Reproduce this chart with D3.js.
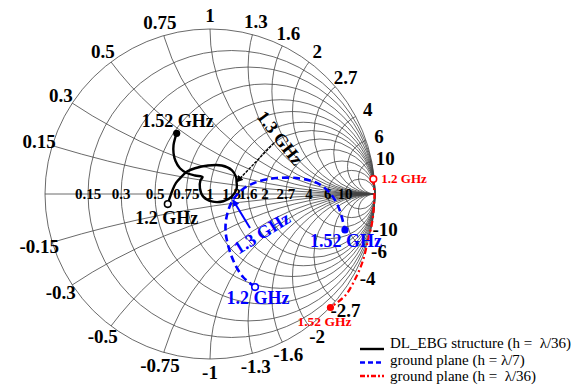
<!DOCTYPE html>
<html><head><meta charset="utf-8">
<script src="https://cdn.jsdelivr.net/npm/d3@7"></script>
<style>
html,body{margin:0;padding:0;background:#fff;}
svg{display:block;}
text{font-family:"Liberation Serif","Times New Roman",serif;}
</style></head><body>
<svg id="chart" width="576" height="386"></svg>
<script>
// Smith chart grid values (normalized resistance and reactance)
const resistanceTicks = [0.15, 0.3, 0.5, 0.75, 1, 1.3, 1.6, 2, 2.7, 4, 6, 10];
const reactanceTicks = [0.15, 0.3, 0.5, 0.75, 1, 1.3, 1.6, 2, 2.7, 4, 6, 10];
const resistanceLabels = ["0.15", "0.3", "0.5", "0.75", "1", "1.3", "1.6", "2", "2.7", "4", "6", "10"];
const reactanceLabels = ["0.15", "0.3", "0.5", "0.75", "1", "1.3", "1.6", "2", "2.7", "4", "6", "10"];

// Reflection coefficient traces [Re(Γ), Im(Γ)], 1.2 GHz → 1.52 GHz
const dlEbg = [
  [-0.256, -0.061], [-0.242, -0.018], [-0.227, 0.024], [-0.206, 0.067], [-0.172, 0.105],
  [-0.141, 0.135], [-0.091, 0.156], [-0.012, 0.173], [0.071, 0.173], [0.132, 0.145],
  [0.158, 0.103], [0.161, 0.073], [0.162, 0.035], [0.132, -0.016], [0.081, -0.044],
  [0.010, -0.045], [-0.041, -0.016], [-0.061, 0.035], [-0.058, 0.082], [-0.045, 0.103],
  [-0.091, 0.112], [-0.141, 0.127], [-0.182, 0.156], [-0.209, 0.200], [-0.221, 0.248],
  [-0.221, 0.297], [-0.212, 0.336], [-0.202, 0.368]
];
const dlEbgMidIndex = 11;

const groundSeventh = [
  [0.273, -0.564], [0.200, -0.503], [0.145, -0.412], [0.109, -0.309], [0.094, -0.218],
  [0.103, -0.127], [0.139, -0.036], [0.200, 0.030], [0.285, 0.073], [0.406, 0.097],
  [0.545, 0.094], [0.648, 0.067], [0.727, 0.006], [0.776, -0.073], [0.800, -0.145],
  [0.818, -0.218]
];
const groundSeventhMidIndex = 6;

const groundThirtySixth = [
  [0.990, 0.091], [0.996, 0.006], [0.993, -0.079], [0.982, -0.176], [0.958, -0.279],
  [0.925, -0.410], [0.880, -0.515], [0.820, -0.615], [0.730, -0.688]
];

const seriesNames = ["DL_EBG structure (h =  λ/36)", "ground plane (h = λ/7)", "ground plane (h =  λ/36)"];
const seriesColors = ["#000000", "#0000ff", "#ff0000"];
const freqStart = "1.2 GHz", freqMid = "1.3 GHz", freqEnd = "1.52 GHz";

const svg = d3.select("#chart");
const cx = 210, cy = 194, R = 165;
const x = d3.scaleLinear().domain([-1, 1]).range([cx - R, cx + R]);
const y = d3.scaleLinear().domain([-1, 1]).range([cy + R, cy - R]);
const len = d3.scaleLinear().domain([0, 1]).range([0, R]);

const defs = svg.append("defs");
defs.append("clipPath").attr("id", "disk")
  .append("circle").attr("cx", x(0)).attr("cy", y(0)).attr("r", len(1));
seriesColors.forEach((c, i) => {
  defs.append("marker").attr("id", "arrow" + i)
    .attr("viewBox", "0 0 10 10").attr("refX", 9).attr("refY", 5)
    .attr("markerWidth", 7).attr("markerHeight", 7).attr("orient", "auto")
    .attr("markerUnits", "userSpaceOnUse")
    .append("path").attr("d", "M0,0 L10,5 L0,10 z").attr("fill", c);
});

// Grid: resistance circles, clipped reactance arcs, real axis and rim
const grid = svg.append("g").attr("fill", "none").attr("stroke", "#444").attr("stroke-width", 0.8);
const clipped = grid.append("g").attr("clip-path", "url(#disk)");
resistanceTicks.forEach(r => {
  grid.append("circle")
    .attr("cx", x(r / (1 + r))).attr("cy", y(0)).attr("r", len(1 / (1 + r)));
});
reactanceTicks.forEach(v => {
  [v, -v].forEach(s => {
    clipped.append("circle")
      .attr("cx", x(1)).attr("cy", y(1 / s)).attr("r", len(1 / Math.abs(s)));
  });
});
grid.append("line").attr("x1", x(-1)).attr("x2", x(1)).attr("y1", y(0)).attr("y2", y(0));
grid.append("circle").attr("cx", x(0)).attr("cy", y(0)).attr("r", len(1));

// Resistance labels along the real axis
const labels = svg.append("g").attr("font-weight", "bold").attr("fill", "#000");
resistanceTicks.forEach((r, i) => {
  labels.append("text")
    .attr("x", x((r - 1) / (r + 1))).attr("y", y(0))
    .attr("text-anchor", "middle").attr("dominant-baseline", "central")
    .attr("font-size", 15).text(resistanceLabels[i]);
});

// Reactance labels around the rim
const rimScale = 1.083;
reactanceTicks.forEach((v, i) => {
  const gr = (v * v - 1) / (v * v + 1), gi = 2 * v / (v * v + 1);
  [[gi, reactanceLabels[i]], [-gi, "-" + reactanceLabels[i]]].forEach(([im, t]) => {
    labels.append("text")
      .attr("x", x(gr * rimScale)).attr("y", y(im * rimScale))
      .attr("text-anchor", "middle").attr("dominant-baseline", "central")
      .attr("font-size", 19).text(t);
  });
});

// Traces with open start marker and filled end marker
const line = d3.line().x(d => x(d[0])).y(d => y(d[1])).curve(d3.curveCatmullRom.alpha(0.5));
const traces = [
  { data: dlEbg, color: seriesColors[0], width: 2.4, dash: null },
  { data: groundSeventh, color: seriesColors[1], width: 2.6, dash: "7,4" },
  { data: groundThirtySixth, color: seriesColors[2], width: 2.2, dash: "6,3,2,3" }
];
traces.forEach(t => {
  svg.append("path").attr("d", line(t.data)).attr("fill", "none")
    .attr("stroke", t.color).attr("stroke-width", t.width)
    .attr("stroke-dasharray", t.dash);
  const s = t.data[0], e = t.data[t.data.length - 1];
  svg.append("circle").attr("cx", x(s[0])).attr("cy", y(s[1])).attr("r", 3.3)
    .attr("fill", "#fff").attr("stroke", t.color).attr("stroke-width", 1.6);
  svg.append("circle").attr("cx", x(e[0])).attr("cy", y(e[1])).attr("r", 3.6)
    .attr("fill", t.color);
});

// Frequency annotations
function note(text, px, py, color, size, angle, anchor) {
  svg.append("text").attr("x", px).attr("y", py)
    .attr("transform", angle ? `rotate(${angle},${px},${py})` : null)
    .attr("text-anchor", anchor || "middle").attr("dominant-baseline", "central")
    .attr("font-weight", "bold").attr("font-size", size).attr("fill", color).text(text);
}
function arrow(x1, y1, pt, i, w, dash) {
  svg.append("line").attr("x1", x1).attr("y1", y1)
    .attr("x2", x(pt[0])).attr("y2", y(pt[1]))
    .attr("stroke", seriesColors[i]).attr("stroke-width", w)
    .attr("stroke-dasharray", dash).attr("marker-end", "url(#arrow" + i + ")");
}
const b0 = dlEbg[0], b1 = dlEbg[dlEbg.length - 1], bm = dlEbg[dlEbgMidIndex];
note(freqStart, x(b0[0]) - 1, y(b0[1]) + 14, "#000", 18);
note(freqEnd, x(b1[0]) + 1, y(b1[1]) - 12, "#000", 18);
note(freqMid, 280, 138, "#000", 18, 52);
arrow(274, 143, bm, 0, 1.4, "3,1.2");

const g0 = groundSeventh[0], g1 = groundSeventh[groundSeventh.length - 1], gm = groundSeventh[groundSeventhMidIndex];
note(freqStart, x(g0[0]) + 3, y(g0[1]) + 11, "#0000ff", 18);
note(freqEnd, x(g1[0]) + 1, y(g1[1]) + 11, "#0000ff", 18);
note(freqMid, 262, 233, "#0000ff", 18, -32);
arrow(250, 228, gm, 1, 2, null);

const r0 = groundThirtySixth[0], r1 = groundThirtySixth[groundThirtySixth.length - 1];
note(freqStart, x(r0[0]) + 8, y(r0[1]), "#ff0000", 13, 0, "start");
note(freqEnd, x(r1[0]) - 6, y(r1[1]) + 14, "#ff0000", 13.5);

// Legend
const legend = svg.append("g").attr("transform", "translate(360,0)");
const legendLineRows = [349, 362.5, 376];
const legendTextRows = [348, 364.5, 381];
const legendDash = [null, "5,3", "5,2,2,2"];
seriesNames.forEach((name, i) => {
  legend.append("line").attr("x1", 0).attr("x2", 24)
    .attr("y1", legendLineRows[i]).attr("y2", legendLineRows[i])
    .attr("stroke", seriesColors[i]).attr("stroke-width", 2.4)
    .attr("stroke-dasharray", legendDash[i]);
  legend.append("text").attr("x", 30).attr("y", legendTextRows[i])
    .attr("font-size", 15).attr("fill", "#000")
    .style("white-space", "pre").text(name);
});
</script>
</body></html>
